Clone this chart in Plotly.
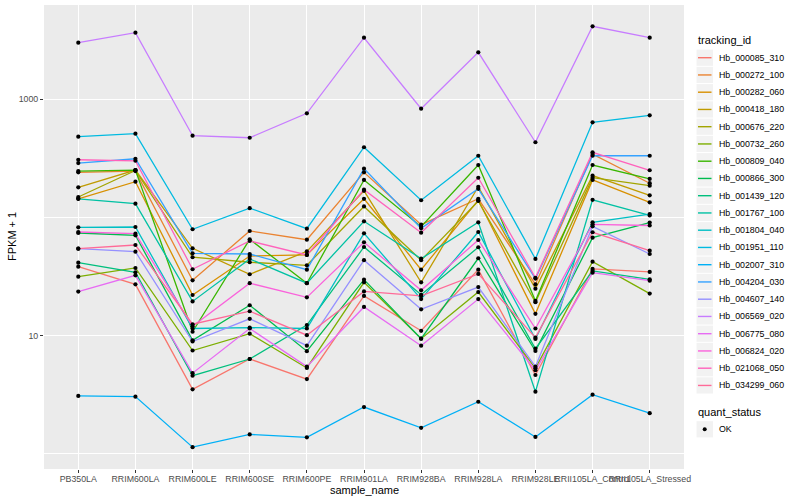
import plotly.graph_objects as go

samples = ["PB350LA", "RRIM600LA", "RRIM600LE", "RRIM600SE", "RRIM600PE",
           "RRIM901LA", "RRIM928BA", "RRIM928LA", "RRIM928LE",
           "RRII105LA_Control", "RRII105LA_Stressed"]

tracking_ids = ["Hb_000085_310", "Hb_000272_100", "Hb_000282_060", "Hb_000418_180",
                "Hb_000676_220", "Hb_000732_260", "Hb_000809_040", "Hb_000866_300",
                "Hb_001439_120", "Hb_001767_100", "Hb_001804_040", "Hb_001951_110",
                "Hb_002007_310", "Hb_004204_030", "Hb_004607_140", "Hb_006569_020",
                "Hb_006775_080", "Hb_006824_020", "Hb_021068_050", "Hb_034299_060"]

# FPKM + 1 per sample (same order as samples)
hb_000085_310 = [38.4, 27.2, 3.52, 6.35, 4.29, 21.7, 11.0, 36.2, 4.65, 36.7, 34.6]
hb_000272_100 = [241, 247, 29.4, 76.9, 64.9, 241, 86.9, 144, 27.2, 344, 195]
hb_000282_060 = [144, 201, 22.1, 47.2, 48.2, 144, 36.2, 140, 15.3, 208, 134.5]
hb_000418_180 = [180, 252, 54.9, 33.1, 51.6, 168, 28.3, 182, 25.0, 226, 154]
hb_000676_220 = [149, 250, 46.1, 41.8, 39.4, 124, 43.5, 138, 19.2, 217, 186]
hb_000732_260 = [31.6, 37.4, 7.49, 10.4, 5.33, 28.3, 9.43, 23.4, 5.30, 42.3, 22.7]
hb_000809_040 = [247, 252, 10.8, 65.4, 27.8, 208, 83.6, 278, 19.7, 278, 212]
hb_000866_300 = [73.9, 70.7, 9.14, 18.1, 7.40, 29.8, 9.43, 45.2, 7.42, 67.5, 90.7]
hb_001439_120 = [41.5, 34.4, 4.59, 6.35, 12.3, 56.3, 22.2, 56.0, 7.76, 35.3, 30.0]
hb_001767_100 = [144, 131, 19.5, 44.6, 27.8, 92.9, 44.8, 91.1, 3.36, 141, 104]
hb_001804_040 = [82.6, 83.1, 11.5, 11.7, 11.5, 73.5, 20.4, 75.4, 9.38, 91.1, 107]
hb_001951_110 = [483, 512, 79.5, 120, 80.4, 393, 140, 333, 44.6, 639, 732]
hb_002007_310 = [3.09, 3.05, 1.14, 1.46, 1.38, 2.49, 1.66, 2.76, 1.39, 3.17, 2.21]
hb_004204_030 = [289, 314, 49.8, 49.1, 36.2, 259, 81.0, 175, 30.4, 333, 333]
hb_004607_140 = [54.5, 51.4, 8.93, 13.9, 8.23, 43.5, 16.7, 25.8, 5.47, 84.2, 49.1]
hb_006569_020 = [3012, 3660, 492, 473, 761, 3320, 833, 2498, 433, 4146, 3320]
hb_006775_080 = [23.6, 32.4, 4.82, 11.5, 5.47, 17.5, 8.23, 20.4, 5.10, 34.1, 29.2]
hb_006824_020 = [75.4, 72.9, 12.0, 27.8, 21.1, 61.7, 24.2, 64.5, 11.5, 87.6, 85.6]
hb_021068_050 = [308, 302, 36.5, 63.3, 48.2, 172, 74.4, 217, 30.9, 356, 251]
hb_034299_060 = [54.5, 58.5, 12.5, 16.1, 10.1, 23.7, 21.7, 33.3, 9.62, 75.0, 52.4]

series = [hb_000085_310, hb_000272_100, hb_000282_060, hb_000418_180, hb_000676_220,
          hb_000732_260, hb_000809_040, hb_000866_300, hb_001439_120, hb_001767_100,
          hb_001804_040, hb_001951_110, hb_002007_310, hb_004204_030, hb_004607_140,
          hb_006569_020, hb_006775_080, hb_006824_020, hb_021068_050, hb_034299_060]

colors = ["#F8766D", "#EA8331", "#D89000", "#C09B00", "#A3A500", "#7CAE00", "#39B600",
          "#00BB4E", "#00BF7D", "#00C1A3", "#00BFC4", "#00BAE0", "#00B0F6", "#35A2FF",
          "#9590FF", "#C77CFF", "#E76BF3", "#FA62DB", "#FF62BC", "#FF6A98"]

quant_status = ["OK"]

FONT = "Liberation Sans, Arial, Helvetica, sans-serif"
W, H = 800, 500
ML, MR, MT, MB = 44, 116, 5, 31
PW, PH = W - ML - MR, H - MT - MB

fig = go.Figure()

for tid, vals, col in zip(tracking_ids, series, colors):
    fig.add_trace(go.Scatter(x=samples, y=vals, mode="lines", name=tid,
                             line=dict(color=col, width=1.3), showlegend=False))

for tid, vals in zip(tracking_ids, series):
    fig.add_trace(go.Scatter(x=samples, y=vals, mode="markers", name=tid,
                             marker=dict(color="black", size=4.2, symbol="circle"),
                             showlegend=False))


def pxx(px):
    return (px - ML) / PW


def pxy(py):
    return (H - MB - py) / PH


shapes = []
annotations = []

# axis titles
annotations.append(dict(x=pxx(364), y=pxy(489.5), xref="paper", yref="paper",
                        text="sample_name", showarrow=False, xanchor="center", yanchor="middle",
                        font=dict(family=FONT, size=11, color="black")))
annotations.append(dict(x=pxx(12), y=pxy(237), xref="paper", yref="paper",
                        text="FPKM + 1", showarrow=False, xanchor="center", yanchor="middle",
                        textangle=-90, font=dict(family=FONT, size=11, color="black")))

# legend 1: tracking_id
annotations.append(dict(x=pxx(696), y=pxy(40.5), xref="paper", yref="paper",
                        text="tracking_id", showarrow=False, xanchor="left", yanchor="middle",
                        font=dict(family=FONT, size=11, color="black")))
step = 17.25
for i, (tid, col) in enumerate(zip(tracking_ids, colors)):
    cy = 57.7 + step * i
    shapes.append(dict(type="rect", xref="paper", yref="paper",
                       x0=pxx(696.5), x1=pxx(713), y0=pxy(cy - 8.1), y1=pxy(cy + 8.1),
                       fillcolor="#F2F2F2", line=dict(width=0), layer="above"))
    shapes.append(dict(type="line", xref="paper", yref="paper",
                       x0=pxx(698), x1=pxx(711.5), y0=pxy(cy), y1=pxy(cy),
                       line=dict(color=col, width=1.4), layer="above"))
    annotations.append(dict(x=pxx(716.5), y=pxy(cy), xref="paper", yref="paper",
                            text=tid, showarrow=False, xanchor="left", yanchor="middle",
                            font=dict(family=FONT, size=8.8, color="black")))

# legend 2: quant_status
annotations.append(dict(x=pxx(696), y=pxy(412.3), xref="paper", yref="paper",
                        text="quant_status", showarrow=False, xanchor="left", yanchor="middle",
                        font=dict(family=FONT, size=11, color="black")))
for j, qs in enumerate(quant_status):
    cy = 429.3 + step * j
    shapes.append(dict(type="rect", xref="paper", yref="paper",
                       x0=pxx(696.5), x1=pxx(713), y0=pxy(cy - 8.1), y1=pxy(cy + 8.1),
                       fillcolor="#F2F2F2", line=dict(width=0), layer="above"))
    shapes.append(dict(type="circle", xref="paper", yref="paper",
                       x0=pxx(702.7), x1=pxx(706.7), y0=pxy(cy + 2), y1=pxy(cy - 2),
                       fillcolor="black", line=dict(width=0), layer="above"))
    annotations.append(dict(x=pxx(716.5), y=pxy(cy), xref="paper", yref="paper",
                            text=qs, showarrow=False, xanchor="left", yanchor="middle",
                            font=dict(family=FONT, size=8.8, color="black")))

fig.update_layout(
    width=W, height=H,
    margin=dict(l=ML, r=MR, t=MT, b=MB),
    paper_bgcolor="white", plot_bgcolor="#EBEBEB",
    font=dict(family=FONT, color="black"),
    showlegend=False,
    shapes=shapes, annotations=annotations,
    xaxis=dict(type="category", categoryorder="array", categoryarray=samples,
               range=[-0.6, len(samples) - 0.4], tickmode="array", tickvals=samples,
               ticktext=samples, tickangle=0, showgrid=True, gridcolor="white",
               gridwidth=1.1, zeroline=False, showline=False, ticks="outside", ticklen=3,
               tickwidth=1, tickcolor="#333333", automargin=False, ticklabelstandoff=-2,
               tickfont=dict(family=FONT, size=8.8, color="#4D4D4D")),
    yaxis=dict(type="log", range=[-0.128, 3.798], tickmode="array", tickvals=[10, 1000],
               ticktext=["10", "1000"], showgrid=True, gridcolor="white", gridwidth=1.1,
               zeroline=False, showline=False, ticks="outside", ticklen=3, tickwidth=1,
               tickcolor="#333333", automargin=False,
               tickfont=dict(family=FONT, size=8.8, color="#4D4D4D"),
               minor=dict(tickvals=[1, 100, 10000], showgrid=True, gridcolor="white",
                          gridwidth=0.55, ticks="")),
)

fig.write_html("out.html", config={"displayModeBar": False},
               post_script="document.body.style.margin='0';document.body.style.padding='0';")
